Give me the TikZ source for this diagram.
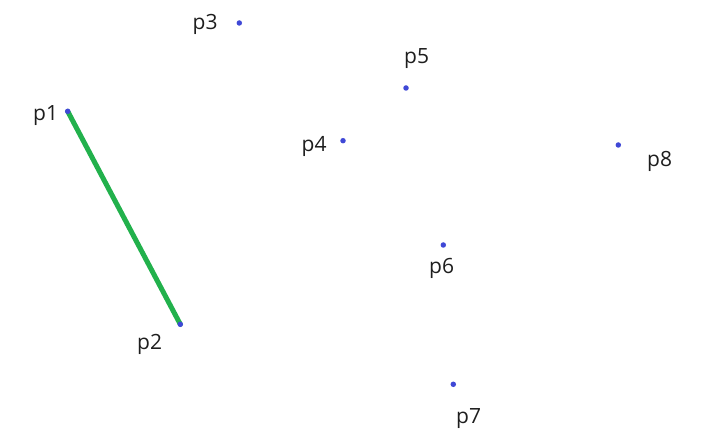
\documentclass[tikz,border=0pt]{standalone}
\usepackage{fontspec}
\setmainfont{Open Sans}
\definecolor{dotblue}{RGB}{63,72,214}
\definecolor{seggreen}{RGB}{34,177,76}
\definecolor{labelgray}{RGB}{30,30,30}
\tikzset{
  pt/.style={circle,fill=dotblue,inner sep=0pt,minimum size=5.5bp},
  lbl/.style={anchor=base west,inner sep=0pt,text=labelgray,font=\fontsize{21bp}{24bp}\selectfont},
  seg/.style={draw=seggreen,line width=5bp,line cap=round}
}
\begin{document}
\begin{tikzpicture}[x=1bp,y=-1bp]
\useasboundingbox (0,0) rectangle (702,440);
\coordinate (c1) at (67.7,111.3);
\coordinate (c2) at (180.3,324.3);
\draw[seg] (c1) -- (c2);
\node[pt] (p1) at (c1) {};
\node[pt] (p2) at (c2) {};
\node[pt] (p3) at (239.3,23) {};
\node[pt] (p4) at (343,140.7) {};
\node[pt] (p5) at (406,88) {};
\node[pt] (p6) at (443.3,245) {};
\node[pt] (p7) at (453.3,384.3) {};
\node[pt] (p8) at (618.3,145) {};
\node[lbl] (l1) at (33,121) {p1};
\node[lbl] (l2) at (137,350) {p2};
\node[lbl] (l3) at (192.5,29.3) {p3};
\node[lbl] (l4) at (301.5,151.7) {p4};
\node[lbl] (l5) at (404,63.3) {p5};
\node[lbl] (l6) at (429,274) {p6};
\node[lbl] (l7) at (456,423.3) {p7};
\node[lbl] (l8) at (647,166.7) {p8};
\end{tikzpicture}
\end{document}
